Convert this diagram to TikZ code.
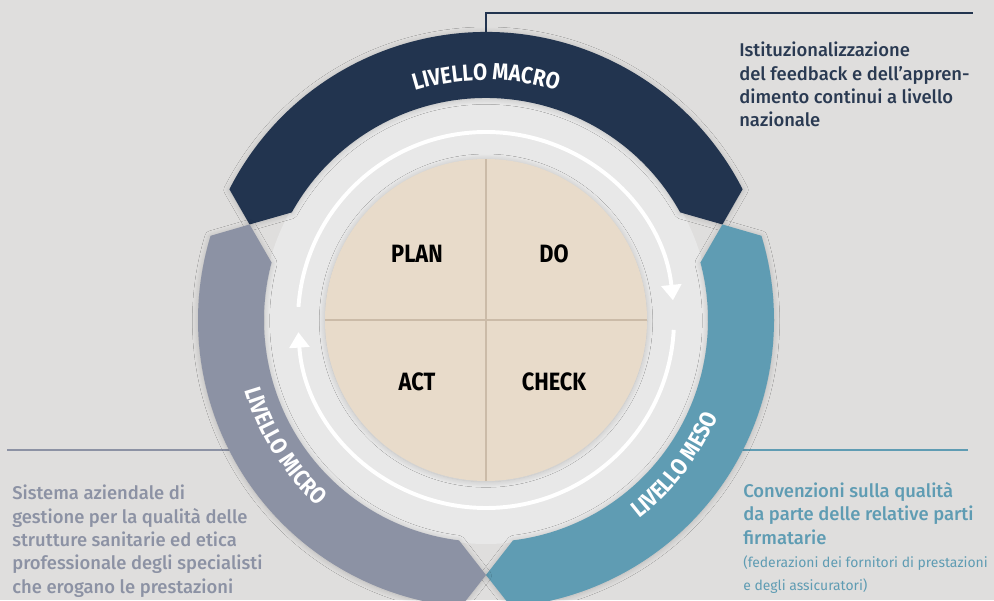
\documentclass[tikz,border=0pt]{standalone}
\usepackage{fontspec}
\setmainfont{Fira Sans}
\newfontfamily\notefont{Fira Sans Medium}
\newfontfamily\condfont{Fira Sans}[FakeStretch=0.87]
\usetikzlibrary{arrows.meta,decorations.text,shadows.blur}

\definecolor{paper}{HTML}{DFDEDD}
\definecolor{hub}{HTML}{E8E8E8}
\definecolor{macro}{HTML}{22344F}
\definecolor{meso}{HTML}{5F9CB3}
\definecolor{micro}{HTML}{8C92A4}
\definecolor{pdca}{HTML}{E8DBCA}
\definecolor{seam}{HTML}{CBBBA8}
\definecolor{macrotext}{HTML}{2A3A52}

\newcommand{\arclabel}{\color{white}\condfont\bfseries\fontsize{16.6}{18}\selectfont}

\begin{document}
\begin{tikzpicture}[x=0.025cm, y=0.025cm,
  ring/.style={blur shadow={shadow xshift=0pt, shadow yshift=-0.5pt, shadow blur radius=4pt, shadow blur steps=16, shadow opacity=18}},
  loopline/.style={draw=white, line width=2.8pt, -{Triangle[width=14pt, length=11pt]}},
  phase/.style={font=\condfont\bfseries\fontsize{17.8}{20}\selectfont},
  note/.style={anchor=north west, inner sep=0pt, align=left, font=\notefont\fontsize{13.1}{16.6}\selectfont},
  smallnote/.style={note, font=\fontsize{9.9}{16.4}\selectfont},
  callout/.style={line width=2pt}]
\useasboundingbox (0,0) rectangle (994,600);
\clip (0,0) rectangle (994,600);
\fill[paper] (0,0) rectangle (994,600);

% callouts to the side texts
\coordinate (microtail) at (7,150);
\coordinate (microarc) at (245,150);
\coordinate (mesoarc) at (728,150);
\coordinate (mesotail) at (968,150);
\coordinate (macrotop) at (486,560);
\coordinate (macrotail) at (973,587);
\draw[callout, micro] (microtail) -- (microarc);
\draw[callout, meso] (mesoarc) -- (mesotail);
\draw[callout, macro] (macrotop) |- (macrotail);

\begin{scope}[shift={(486,280)}]
\fill[hub] (0,0) circle[radius=224];
% the three levels
\foreach \col/\a/\b in {macro/158/22, meso/22/-90, micro/270/158}
  \fill[\col, ring] ({\a-5}:288) arc[start angle=\a-5, end angle=\b+5, radius=288]
    -- (\b:255) -- ({\b+7}:222) arc[start angle=\b+7, end angle=\a-7, radius=222]
    -- (\a:255) -- cycle;
\path[decorate, decoration={text along path, text align=center,
  text={|\arclabel|LIVELLO MACRO}}] (150:240) arc[start angle=150, end angle=30, radius=240];
\path[decorate, decoration={text along path, text align=center,
  text={|\arclabel|LIVELLO MICRO}}] (180:251) arc[start angle=180, end angle=244, radius=251];
\path[decorate, decoration={text along path, text align=center,
  text={|\arclabel|LIVELLO MESO}}] (290:251) arc[start angle=290, end angle=355, radius=251];

% PDCA cycle
\draw[loopline] (176:188) arc[start angle=176, end angle=6, radius=188];
\draw[loopline] (-3:188) arc[start angle=-3, end angle=-176.3, radius=188];
\fill[pdca, ring] (0,0) circle[radius=161];
\draw[seam, line width=1pt] (90:161) -- (270:161);
\draw[seam, line width=1pt] (180:161) -- (0:161);
\node[phase] (plan) at (-69,66.5) {PLAN};
\node[phase] (do) at (68,66.5) {DO};
\node[phase] (act) at (-69,-61.5) {ACT};
\node[phase] (check) at (68,-61.5) {CHECK};
\end{scope}

\node[note, text=macrotext] (macronote) at (739,558)
  {Istituzionalizzazione\\del feedback e dell’appren-\\dimento continui a livello\\nazionale};
\node[note, text=micro] (micronote) at (12,115)
  {Sistema aziendale di\\gestione per la qualità delle\\strutture sanitarie ed etica\\professionale degli specialisti\\che erogano le prestazioni};
\node[note, text=meso] (mesonote) at (743,118)
  {Convenzioni sulla qualità\\da parte delle relative parti\\firmatarie};
\node[smallnote, text=meso] (mesosub) at (743,45)
  {(federazioni dei fornitori di prestazioni\\e degli assicuratori)};
\end{tikzpicture}
\end{document}
